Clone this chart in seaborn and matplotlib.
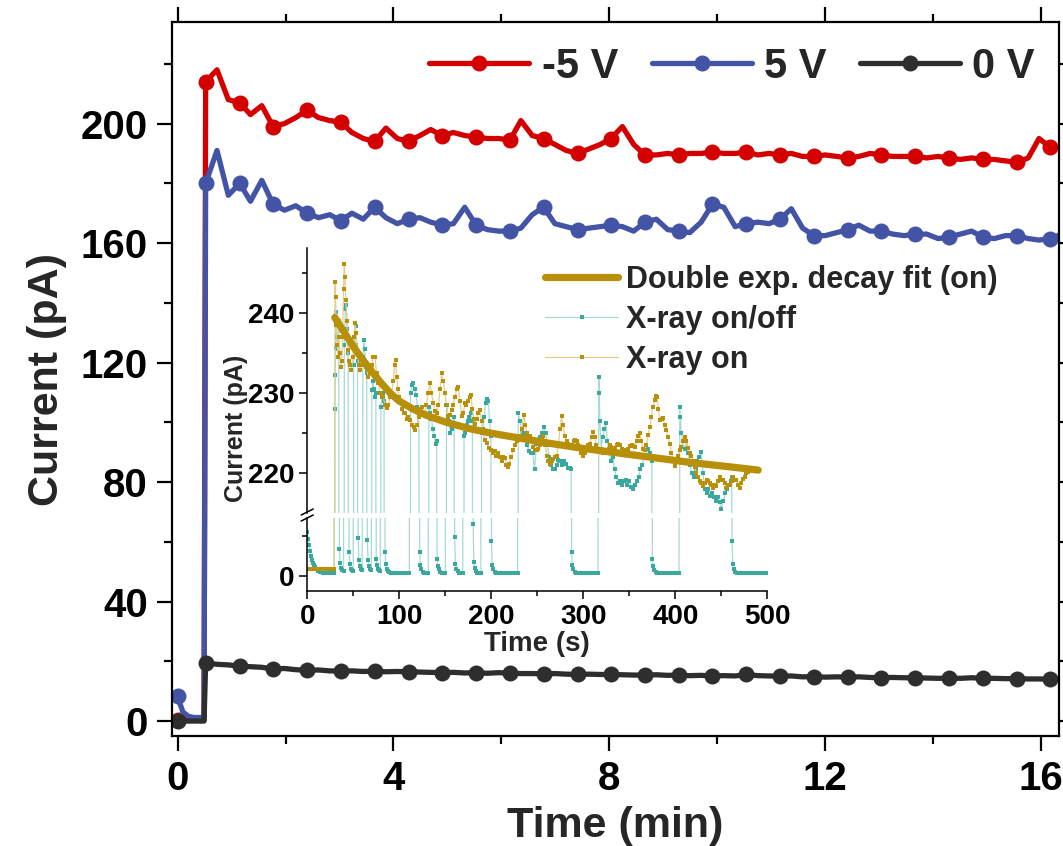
import numpy as np
import matplotlib
matplotlib.use("Agg")
import matplotlib.pyplot as plt
from matplotlib.lines import Line2D
from matplotlib.ticker import MultipleLocator, FixedLocator
import seaborn as sns

sns.set_theme(style="ticks")
plt.rcParams["font.family"] = ["Liberation Sans", "DejaVu Sans"]
plt.rcParams["font.weight"] = "bold"
plt.rcParams["axes.labelweight"] = "bold"

# ---------------- main panel: photocurrent vs time (min) ----------------
T_PRE = [0.0, 0.05, 0.10, 0.20, 0.30, 0.40, 0.49]
T_RUN = [0.52, 0.73, 0.94, 1.15, 1.35, 1.56, 1.77, 1.98, 2.19, 2.40,
         2.61, 2.82, 3.02, 3.23, 3.44, 3.65, 3.86, 4.07, 4.28, 4.49,
         4.69, 4.90, 5.11, 5.32, 5.53, 5.74, 5.95, 6.16, 6.36, 6.57,
         6.78, 6.99, 7.20, 7.41, 7.62, 7.83, 8.03, 8.24, 8.45, 8.66,
         8.87, 9.08, 9.29, 9.49, 9.70, 9.91, 10.12, 10.33, 10.54, 10.75,
         10.96, 11.16, 11.37, 11.58, 11.79, 12.00, 12.21, 12.42, 12.62, 12.83,
         13.04, 13.25, 13.46, 13.67, 13.88, 14.09, 14.29, 14.50, 14.71, 14.92,
         15.13, 15.34, 15.55, 15.76, 15.96, 16.17, 16.38]

I_NEG5_PRE = [0.5, 1.0, 1.0, 0.6, 0.5, 0.5, 0.5]
I_NEG5 = [214, 218, 208, 207, 203, 206, 199, 200, 202, 204.5,
          202, 201, 200.5, 197, 195, 194, 198.5, 195, 194, 196,
          198, 196, 197, 196, 195.5, 195, 195, 194.5, 201, 196,
          195, 193, 191, 190, 191.5, 193, 195, 199, 193, 189.5,
          189.5, 190, 189.5, 190, 190, 190.5, 190, 190, 190.5, 189.5,
          190, 189.5, 190, 189, 189, 189.5, 189, 188.5, 189, 190,
          189.5, 189, 189, 189, 188.5, 189, 188.5, 188, 188.5, 188,
          188, 187.5, 187, 188.5, 195, 192, 192]

I_POS5_PRE = [8.5, 5.5, 3.0, 1.6, 1.2, 1.2, 1.2]
I_POS5 = [180, 191, 176, 180, 174, 181, 173, 171, 172.5, 170,
          168.5, 169.5, 167.5, 170, 168, 172, 168.5, 166.5, 168, 168.5,
          167, 166, 166.5, 172, 166, 164.5, 164, 164, 165, 169.5,
          172, 166.5, 165.5, 164.5, 165, 165.5, 166, 165.5, 164, 167,
          168, 164.5, 164, 163.5, 167, 173, 172, 165.5, 166.5, 167,
          166.5, 168, 171.5, 165, 162.5, 162.5, 163.5, 164.5, 166, 164,
          164, 163, 162.5, 163, 163, 161.5, 162, 163, 164, 162,
          161.5, 162.5, 162.5, 161.5, 161, 161.5, 163]

I_ZERO_PRE = [0.0, 0.0, 0.0, 0.0, 0.0, 0.0, 0.0]
I_ZERO = [19.5, 19.0, 18.8, 18.4, 18.2, 18.0, 17.4, 17.6, 17.2, 17.0,
          17.1, 16.8, 16.7, 16.8, 16.6, 16.7, 16.5, 16.6, 16.5, 16.4,
          16.3, 16.2, 16.3, 16.1, 16.2, 16.0, 16.2, 16.0, 15.9, 15.9,
          15.8, 15.9, 15.7, 15.6, 15.7, 15.6, 15.6, 15.5, 15.4, 15.4,
          15.5, 15.3, 15.4, 15.2, 15.3, 15.1, 15.2, 15.1, 15.6, 15.2,
          15.1, 15.0, 15.1, 14.8, 14.9, 14.7, 14.8, 14.7, 14.8, 14.6,
          14.5, 14.6, 14.5, 14.5, 14.4, 14.3, 14.4, 14.3, 14.5, 14.3,
          14.3, 14.2, 14.2, 14.1, 14.1, 14.0, 14.0]

BIAS_LABELS = ["-5 V", "5 V", "0 V"]
BIAS_COLORS = ["#d40000", "#4353a6", "#2e2e2e"]

# ---------------- inset: X-ray on/off response (s) ----------------
ONOFF_T = [0, 1, 2, 3, 4, 5, 6, 7, 8, 10, 12, 14, 17, 20, 23, 26, 29,
           30.0, 30.4, 30.8, 31.3, 32.3, 33.3, 34.3,
           35.0, 35.8, 36.8, 38.0, 39.5,
           40.3, 41.5, 42.5, 43.5, 44.5,
           45.4, 46.2, 47.2, 48.5, 50.0,
           50.5, 51.5, 52.5, 53.5, 54.7,
           55.4, 56.2, 57.2, 58.5, 59.8,
           60.5, 61.5, 62.5, 63.5, 64.7,
           65.3, 66.1, 67.1, 68.5, 69.7,
           70.2, 71.3, 72.5, 73.6, 74.6,
           75.0, 75.8, 76.8, 78.0, 79.4,
           80.0, 81.2, 82.4, 83.5,
           84.5, 85.3, 86.3, 87.5, 89, 91, 93, 95, 97, 99, 101, 103, 105, 107, 109, 111,
           112.3, 113.8, 115.3, 116.8, 118.3, 119.8, 121.3,
           122.2, 123, 124, 125.5, 127, 128.5, 130, 131.5,
           132.2, 133.5, 135, 136.5, 138, 139.5, 140.7,
           141.2, 142, 143, 144.5, 146, 148, 150,
           151.3, 152.5, 154, 155.5, 157, 158.5, 159.7,
           160.2, 161, 162, 163.5, 165, 167, 169,
           170.4, 171.8, 173.3, 174.8, 176.3, 177.8, 179.5,
           180.3, 181, 182, 183.5, 185, 187, 188.7,
           189.4, 190.8, 192.3, 193.8, 195.3, 196.8, 198.2, 199.6,
           200.2, 201, 202, 203.5, 205, 207, 209, 211, 213, 215, 217, 219, 221, 223, 225, 227, 228.6,
           229.3, 231, 233, 235, 237, 239, 241, 243, 245, 247, 249, 251, 253, 255, 257,
           259, 261, 263, 265, 267, 269, 271, 273, 275, 277, 279, 281, 283, 285, 286.8,
           287.2, 288, 289, 290.5, 292, 294, 296, 298, 300, 302, 304, 306, 308, 310, 312, 314, 316,
           316.8, 317.3, 318, 319.5, 321, 323, 324.5, 326, 328, 330, 332, 334, 336, 338, 340,
           342, 344, 346, 348, 350, 352, 354, 356, 358, 360, 362, 364, 366, 368, 370, 372, 374.5,
           375, 375.8, 377, 378.5, 380, 382, 384, 386, 388, 390, 392, 394, 396, 398, 400, 402, 404,
           404.8, 405.5, 406.5, 408, 410, 412, 414, 416, 418, 420, 422, 424, 426, 428, 430,
           432, 434, 436, 438, 440, 442, 444, 446, 448, 450, 452, 454, 456, 458, 460, 461.3,
           461.6, 462.4, 463.5, 465, 467, 469, 471, 473, 475, 477, 479, 481, 483, 485, 487,
           489, 491, 493, 495, 497, 499]
ONOFF_I = [5.5, 4.6, 3.8, 3.1, 2.5, 2.0, 1.6, 1.3, 1.1, 0.8, 0.6, 0.5, 0.4, 0.35, 0.3, 0.3, 0.3,
           228.0, 232.2, 235.6, 240.1, 237.0, 235.5, 239.0,
           3.3, 1.6, 1.0, 0.7, 0.6,
           236.0, 240.5, 241.0, 238.0, 235.0,
           3.0, 1.5, 0.9, 0.7, 0.6,
           233.5, 236.0, 238.3, 236.0, 234.0,
           4.7, 2.0, 1.2, 0.8, 0.7,
           234.5, 236.6, 235.5, 233.3, 232.5,
           4.5, 2.0, 1.2, 0.8, 0.7,
           230.4, 231.5, 230.5, 229.5, 230.0,
           2.1, 1.3, 0.9, 0.7, 0.6,
           228.3, 229.5, 230.0, 229.0,
           2.9, 1.5, 0.9, 0.6, 0.45, 0.4, 0.35, 0.35, 0.3, 0.3, 0.3, 0.3, 0.3, 0.3, 0.3, 0.3,
           230.0, 231.0, 231.2, 230.5, 229.8, 228.3, 227.0,
           2.9, 1.4, 0.8, 0.5, 0.4, 0.35, 0.3, 0.3,
           228.3, 227.5, 226.8, 225.5, 224.6, 223.7, 224.0,
           2.1, 1.2, 0.8, 0.5, 0.4, 0.35, 0.3,
           228.5, 227.0, 226.5, 225.0, 225.5, 226.0, 227.0,
           4.8, 1.5, 0.9, 0.6, 0.4, 0.35, 0.3,
           224.6, 225.0, 226.0, 226.5, 227.0, 227.5, 226.5,
           6.5, 1.7, 1.0, 0.6, 0.4, 0.35, 0.3,
           225.0, 225.5, 227.0, 228.7, 229.3, 229.0, 226.5, 224.6,
           4.3, 1.3, 0.8, 0.5, 0.4, 0.3, 0.3, 0.3, 0.3, 0.3, 0.3, 0.3, 0.3, 0.3, 0.3, 0.3, 0.3,
           227.5, 226.5, 225.4, 225.0, 224.5, 223.5, 222.8, 222.5, 222.5, 220.5, 223.7, 224.0, 224.5, 225.0, 225.8,
           225.0, 223.5, 222.0, 221.0, 220.5, 220.5, 221.0, 221.7, 221.5, 221.0, 221.5, 221.2, 220.7, 220.7, 220.5,
           3.0, 1.3, 0.8, 0.5, 0.4, 0.3, 0.3, 0.3, 0.3, 0.3, 0.3, 0.3, 0.3, 0.3, 0.3, 0.3, 0.3,
           232.0, 230.0, 226.5, 223.0, 224.5, 225.5, 226.3, 224.0, 222.5, 221.5, 222.0, 220.5, 219.5, 218.8, 219.0,
           218.5, 219.0, 219.2, 218.5, 219.0, 218.3, 218.0, 218.5, 219.0, 219.6, 220.5, 221.0, 222.0, 222.1, 223.0, 222.5, 221.5,
           2.1, 1.2, 0.7, 0.5, 0.4, 0.3, 0.3, 0.3, 0.3, 0.3, 0.3, 0.3, 0.3, 0.3, 0.3, 0.3, 0.3,
           228.3, 227.0, 225.0, 224.0, 223.0, 224.0, 222.5, 221.0, 220.0, 219.6, 220.5, 221.5, 222.0, 222.7, 220.0,
           218.0, 217.5, 218.0, 217.2, 217.5, 217.0, 216.5, 217.0, 216.4, 215.6, 216.5, 217.5, 218.0, 218.5, 219.0, 219.5,
           4.3, 1.5, 0.8, 0.5, 0.4, 0.3, 0.3, 0.3, 0.3, 0.3, 0.3, 0.3, 0.3, 0.3, 0.3,
           0.3, 0.3, 0.3, 0.3, 0.3, 0.3]

ON_T = [0, 2, 4, 6, 8, 10, 12, 14, 16, 18, 20, 22, 24, 26, 28, 29.5,
        30.2, 30.8, 31.5, 32.5, 33.5, 34.5, 35.5, 36.5, 37.5, 38.5, 39.5, 40.3, 41.0, 42.0,
        43.0, 44.0, 45.0, 46.5, 48.0, 49.5, 51.0, 52.0, 53.0, 54.4, 56.0, 57.5, 59.0, 61.0,
        62.8, 64.5, 66.5, 68.2, 70.0, 71.8, 73.6, 75.4, 77.2, 79.0, 80.8, 82.7, 84.5, 86.3,
        88.0, 89.8, 91.7, 93.5, 95.0, 96.1, 97.2, 98.5, 100.0, 101.5, 103.5, 105.0, 106.2,
        108.0, 110.0, 111.6, 113.5, 115.5, 117.0, 119.0, 121.0, 122.5, 124.3, 126.0, 127.9,
        129.5, 131.5, 133.3, 135.0, 137.0, 139.0, 140.6, 142.5, 144.5, 146.0, 147.8, 149.7,
        151.5, 153.3, 155.0, 156.9, 158.5, 160.5, 162.5, 164.1, 166.0, 167.7, 169.5, 171.3,
        173.0, 175.0, 176.5, 177.8, 179.5, 181.0, 182.2, 184.0, 185.8, 187.6, 189.5, 191.2,
        193.0, 195.0, 197.0, 200.2, 202.0, 204.0, 205.5, 207.4, 209.5, 211.5, 213.0, 214.7,
        216.5, 218.0, 219.4, 221.5, 223.8, 225.5, 227.5, 229.0, 231.0, 233.0, 235.3, 237.0,
        238.5, 240.0, 242.0, 243.5, 245.5, 247.5, 249.2, 251.0, 253.0, 255.0, 256.4, 258.5,
        260.5, 262.0, 263.7, 265.5, 267.5, 269.0, 271.0, 273.0, 274.5, 276.4, 278.0, 280.0,
        282.0, 283.5, 285.4, 287.5, 289.5, 291.0, 292.6, 294.5, 296.5, 298.0, 299.8, 301.5,
        303.5, 305.5, 307.1, 309.0, 310.7, 312.5, 314.3, 316.1, 318.0, 320.0, 321.5, 323.4,
        325.5, 327.5, 329.0, 330.6, 332.5, 334.5, 336.5, 338.0, 339.6, 341.5, 343.5, 345.0,
        346.9, 349.0, 351.0, 353.0, 354.5, 356.0, 358.0, 359.5, 361.4, 363.0, 364.8, 366.8,
        368.5, 370.5, 372.3, 374.0, 375.5, 377.7, 379.0, 380.2, 381.5, 383.1, 385.0, 386.7,
        388.5, 390.3, 392.0, 394.0, 395.8, 397.5, 399.4, 401.0, 403.0, 404.8, 406.5, 408.5,
        410.0, 412.0, 414.0, 416.0, 417.5, 419.5, 421.0, 422.9, 424.5, 426.5, 428.0, 430.1,
        432.0, 434.0, 436.0, 437.4, 439.0, 441.0, 443.0, 444.6, 446.5, 448.5, 450.0, 451.8,
        453.5, 455.0, 457.0, 459.1, 461.0, 462.5, 464.5, 466.3, 468.0, 469.9, 471.5, 473.5,
        475.4, 477.0, 479.0]
ON_I = [0.84] * 16 + [
        243.8, 242.0, 238.5, 236.0, 234.5, 237.0, 235.0, 233.3, 234.0, 237.0, 243.0, 246.1, 244.5, 241.6,
        239.0, 235.3, 234.0, 233.5, 232.9, 234.5, 237.0, 238.7, 237.5, 235.3, 233.5, 232.9, 233.5, 234.0,
        233.7, 233.0, 232.0, 232.5, 233.5, 234.5, 234.5, 232.5, 231.2, 230.0, 229.8, 229.5, 228.5, 228.1,
        228.5, 229.5, 230.0, 231.5, 233.5, 234.1, 232.0, 230.5, 229.5, 229.0, 228.0, 227.5, 227.5,
        226.8, 227.0, 226.7, 226.0, 225.8, 225.4, 226.0, 227.0, 228.0, 228.3, 227.5, 227.5,
        228.5, 230.0, 231.2, 230.0, 228.7, 227.8, 227.5, 228.5, 230.5, 232.5, 231.5, 230.0,
        228.5, 227.1, 227.3, 227.9, 228.5, 229.5, 230.5, 230.8, 229.0, 227.1, 227.5, 228.7,
        228.5, 229.0, 229.5, 229.8, 228.0, 226.8, 226.2, 226.8, 227.5, 227.9, 226.5, 225.0,
        224.2, 223.8, 223.2, 222.9, 222.5, 222.8, 222.2, 222.5, 222.0, 221.5, 222.0, 221.9,
        221.0, 220.8, 221.2, 222.0, 222.9, 223.5, 224.0, 224.2, 224.6, 225.5, 227.3, 226.0,
        225.0, 224.6, 224.6, 224.0, 223.3, 222.9, 222.9, 223.0, 223.5, 224.2, 224.6, 223.5,
        222.2, 221.5, 221.2, 221.5, 221.8, 222.0, 222.1, 223.5, 225.5, 227.1, 226.0, 224.6,
        224.0, 223.6, 223.3, 223.5, 224.0, 224.2, 224.0, 223.5, 223.0, 222.5, 222.1, 222.5,
        223.0, 223.5, 223.7, 224.5, 225.2, 224.5, 223.5, 222.9, 223.0, 222.8, 222.5, 222.5,
        222.8, 223.0, 223.5, 223.3, 223.0, 223.2, 223.5, 223.6, 223.5, 223.0, 222.5, 222.7,
        222.9, 223.0, 223.4, 223.5, 223.4, 223.3, 224.0, 224.6, 225.0, 224.0, 223.0, 222.9,
        223.5, 224.8, 225.8, 227.0, 228.3, 229.1, 229.6, 229.5, 228.0, 226.7, 226.8, 226.9,
        226.0, 225.4, 224.5, 223.7, 222.5, 221.5, 220.9, 221.5, 222.2, 222.9, 223.3, 224.0,
        224.5, 224.0, 223.2, 222.5, 222.1, 221.5, 220.8, 220.0, 219.5, 219.0, 218.8, 218.4,
        218.8, 219.2, 219.0, 218.8, 218.5, 218.2, 218.5, 218.4, 219.0, 219.5, 219.2, 219.2,
        218.8, 218.2, 218.5, 218.6, 219.0, 219.5, 219.2, 219.2, 218.6, 218.2, 218.8, 219.3,
        219.6, 220.0, 220.2]

FIT_T = [30, 40, 50, 60, 70, 80, 90, 100, 115, 130, 150, 175, 200, 230, 260,
         300, 340, 380, 420, 460, 490]
FIT_I = [239.4, 237.6, 235.8, 234.2, 232.7, 231.3, 230.0, 229.0, 228.0, 227.2, 226.4,
         225.6, 225.0, 224.4, 223.8, 223.1, 222.5, 221.9, 221.3, 220.8, 220.4]

TEAL_DOT = "#3aa89e"
TEAL_LINE = "#a6dad5"
GOLD_DOT = "#b8900a"
GOLD_LINE = "#e2cf8c"
FIT_COLOR = "#b78f08"

W, H = 1063, 846
fig = plt.figure(figsize=(W / 100, H / 100), dpi=100)


def fx(px):
    return px / W


def fy(py):
    return 1 - py / H


# ---- main axes ----
ax = fig.add_axes([fx(171.5), fy(736), fx(1059) - fx(171.5), fy(22) - fy(736)])

mark_idx = [0] + list(range(len(T_PRE), len(T_PRE) + len(T_RUN), 3))
series = [(I_NEG5_PRE + I_NEG5), (I_POS5_PRE + I_POS5), (I_ZERO_PRE + I_ZERO)]
t_all = T_PRE + T_RUN
for vals, col in zip(series, BIAS_COLORS):
    sns.lineplot(x=t_all, y=vals, ax=ax, color=col, lw=3.8, marker="o",
                 markersize=11.5, markeredgecolor=col, markeredgewidth=0,
                 markevery=mark_idx, estimator=None, sort=False, legend=False,
                 solid_joinstyle="round")

ax.set_xlim(-0.113, 16.33)
ax.set_ylim(-5.0, 234.0)
ax.xaxis.set_major_locator(MultipleLocator(4))
ax.xaxis.set_minor_locator(MultipleLocator(2))
ax.yaxis.set_major_locator(MultipleLocator(40))
ax.yaxis.set_minor_locator(MultipleLocator(20))
ax.tick_params(which="both", direction="out", top=True, right=True, width=1.6, colors="black")
ax.tick_params(which="major", length=11, labelsize=29, pad=6)
ax.tick_params(which="minor", length=6)
for s in ax.spines.values():
    s.set_linewidth(1.6)
    s.set_color("black")
for lab in ax.get_xticklabels() + ax.get_yticklabels():
    lab.set_fontweight("bold")
ax.set_xlabel("Time (min)", fontsize=31, fontweight="bold", labelpad=6)
ax.set_ylabel("Current (pA)", fontsize=31, fontweight="bold", labelpad=10)

handles = [Line2D([], [], color=c, lw=3.8, marker="o", markersize=11.5,
                  markeredgewidth=0, solid_capstyle="round") for c in BIAS_COLORS]
ax.legend(handles, BIAS_LABELS, loc="center right", bbox_to_anchor=(fx(1035), fy(67)),
          bbox_transform=fig.transFigure, ncol=3, frameon=False,
          handlelength=2.4, handletextpad=0.3, columnspacing=0.8,
          borderaxespad=0, borderpad=0, prop={"weight": "bold", "size": 30})

# ---- inset with broken y axis ----
ix0, ix1 = 307.2, 767.4
ax_hi = fig.add_axes([fx(ix0), fy(513), fx(ix1) - fx(ix0), fy(248) - fy(513)], facecolor="none")
ax_lo = fig.add_axes([fx(ix0), fy(591), fx(ix1) - fx(ix0), fy(518) - fy(591)], facecolor="none")

for a in (ax_hi, ax_lo):
    sns.lineplot(x=ONOFF_T, y=ONOFF_I, ax=a, color=TEAL_LINE, lw=0.9, marker="s",
                 markersize=2.4, markerfacecolor=TEAL_DOT, markeredgecolor=TEAL_DOT,
                 markeredgewidth=0, estimator=None, sort=False, legend=False)
    sns.lineplot(x=ON_T, y=ON_I, ax=a, color=GOLD_LINE, lw=0.9, marker="s",
                 markersize=2.6, markerfacecolor=GOLD_DOT, markeredgecolor=GOLD_DOT,
                 markeredgewidth=0, estimator=None, sort=False, legend=False)
    sns.lineplot(x=FIT_T, y=FIT_I, ax=a, color=FIT_COLOR, lw=5.2, estimator=None,
                 sort=False, legend=False, solid_capstyle="round")
    a.set_xlim(0, 500)
    for side in ("top", "right"):
        a.spines[side].set_visible(False)
    for s in a.spines.values():
        s.set_linewidth(1.1)
        s.set_color("black")
    a.set_xlabel("")
    a.set_ylabel("")

ax_hi.set_ylim(215.06, 248.06)
ax_hi.spines["bottom"].set_visible(False)
ax_hi.tick_params(axis="x", which="both", bottom=False, labelbottom=False)
ax_hi.yaxis.set_major_locator(FixedLocator([220, 230, 240]))
ax_hi.yaxis.set_minor_locator(FixedLocator([225, 235, 245]))

ax_lo.set_ylim(-1.91, 7.21)
ax_lo.yaxis.set_major_locator(FixedLocator([0]))
ax_lo.yaxis.set_minor_locator(FixedLocator([5]))
ax_lo.xaxis.set_major_locator(MultipleLocator(100))
ax_lo.xaxis.set_minor_locator(MultipleLocator(50))

for a in (ax_hi, ax_lo):
    a.tick_params(which="both", direction="out", width=1.1, colors="black")
    a.tick_params(which="major", length=6, labelsize=20, pad=3)
    a.tick_params(which="minor", length=3.5)
    for lab in a.get_xticklabels() + a.get_yticklabels():
        lab.set_fontweight("bold")

ax_lo.set_xlabel("Time (s)", fontsize=20, fontweight="bold", labelpad=1)
fig.text(fx(236), fy(428), "Current (pA)", rotation=90, ha="center", va="center",
         fontsize=18, fontweight="bold")

# break marks on the inset y axis
for dy in (-3, 3):
    fig.add_artist(Line2D([fx(ix0 - 6), fx(ix0 + 6)], [fy(518 + dy), fy(512 + dy)],
                          transform=fig.transFigure, color="black", lw=1.1))

inset_handles = [
    Line2D([], [], color=FIT_COLOR, lw=5.2, solid_capstyle="round"),
    Line2D([], [], color=TEAL_LINE, lw=0.9, marker="s", markersize=3,
           markerfacecolor=TEAL_DOT, markeredgewidth=0),
    Line2D([], [], color=GOLD_LINE, lw=0.9, marker="s", markersize=3,
           markerfacecolor=GOLD_DOT, markeredgewidth=0),
]
inset_labels = ["Double exp. decay fit (on)", "X-ray on/off", "X-ray on"]
ax_hi.legend(inset_handles, inset_labels, loc="upper left",
             bbox_to_anchor=(fx(545), fy(265)), bbox_transform=fig.transFigure,
             frameon=False, handlelength=2.4, handletextpad=0.25, labelspacing=0.32,
             borderaxespad=0, borderpad=0, prop={"weight": "bold", "size": 22})

fig.savefig("out.png", dpi=100)
